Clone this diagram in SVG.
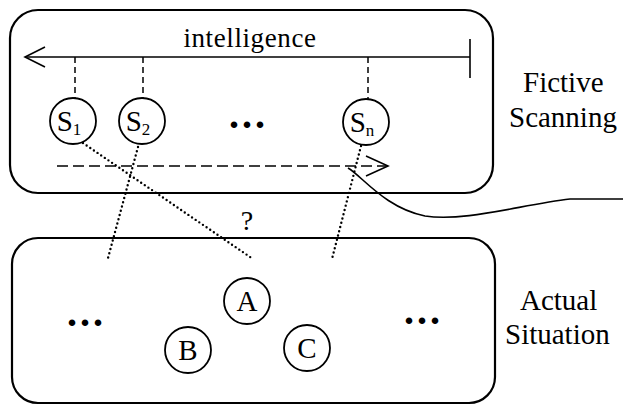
<svg xmlns="http://www.w3.org/2000/svg" width="623" height="405" viewBox="0 0 623 405">
  <style>
    .box { fill: none; stroke: #000; stroke-width: 2.2; }
    .solid { fill: none; stroke: #000; stroke-width: 1.6; }
    .dash { fill: none; stroke: #000; stroke-width: 1.5; stroke-dasharray: 6 4; }
    .hdash { fill: none; stroke: #000; stroke-width: 1.6; stroke-dasharray: 11 5; }
    .dot { fill: none; stroke: #000; stroke-width: 2.4; stroke-dasharray: 0 4.4; stroke-linecap: round; }
    .node { fill: #fff; stroke: #000; stroke-width: 1.8; }
    text { font-family: "Liberation Serif", "Times New Roman", serif; fill: #000; }
    .lbl { font-size: 29px; }
    .in { font-size: 29px; text-anchor: middle; }
    .ell { font-size: 40px; font-weight: bold; letter-spacing: 3px; }
  </style>

  <!-- regions -->
  <g id="fictive-scanning">
    <rect class="box" x="10" y="10" width="483" height="183" rx="28" ry="28"/>
    <text class="lbl" x="523" y="92">Fictive</text>
    <text class="lbl" x="509" y="127">Scanning</text>
  </g>
  <g id="actual-situation">
    <rect class="box" x="12" y="238" width="483" height="165" rx="26" ry="26"/>
    <text class="lbl" x="520" y="310">Actual</text>
    <text class="lbl" x="505" y="344">Situation</text>
  </g>

  <!-- connectors -->
  <g id="connectors">
    <!-- intelligence axis -->
    <line class="solid" x1="25" y1="57" x2="470" y2="57"/>
    <polyline class="solid" points="45,47 25,57 45,67"/>
    <line class="solid" x1="470" y1="39" x2="470" y2="78"/>
    <!-- drop lines to scan states -->
    <line class="dash" x1="75" y1="57" x2="75" y2="98"/>
    <line class="dash" x1="143" y1="57" x2="143" y2="98"/>
    <line class="dash" x1="368" y1="57" x2="368" y2="99"/>
    <!-- scanning direction -->
    <line class="hdash" x1="57" y1="166" x2="388" y2="166"/>
    <polyline class="solid" points="366,156 388,166 366,176"/>
    <!-- dotted correspondences -->
    <line class="dot" x1="83" y1="143" x2="253" y2="259"/>
    <line class="dot" x1="138" y1="147" x2="108" y2="258"/>
    <line class="dot" x1="361" y1="146" x2="332" y2="259"/>
    <!-- curve leaving the scan -->
    <path class="solid" d="M348,168 C362,176 385,208 425,216 C465,222 520,205 570,199 L623,199"/>
  </g>

  <g id="question">
    <text class="lbl" x="247" y="230" text-anchor="middle" style="font-size:28px">?</text>
  </g>

  <g id="intelligence">
    <text x="250" y="47" text-anchor="middle" style="font-size:27px;letter-spacing:0.6px">intelligence</text>
  </g>

  <!-- scan states -->
  <g id="s1">
    <circle class="node" cx="73" cy="121" r="23"/>
    <text class="in" x="69" y="131">S<tspan font-size="17" dy="4">1</tspan></text>
  </g>
  <g id="s2">
    <circle class="node" cx="142" cy="121" r="23"/>
    <text class="in" x="138" y="131">S<tspan font-size="17" dy="4">2</tspan></text>
  </g>
  <g id="s-ellipsis">
    <text class="ell" x="229" y="128">...</text>
  </g>
  <g id="sn">
    <circle class="node" cx="366" cy="122" r="23"/>
    <text class="in" x="362" y="132">S<tspan font-size="17" dy="4">n</tspan></text>
  </g>

  <!-- situation entities -->
  <g id="a">
    <circle class="node" cx="247" cy="301" r="23"/>
    <text class="in" x="247" y="311">A</text>
  </g>
  <g id="b">
    <circle class="node" cx="188" cy="350" r="23"/>
    <text class="in" x="188" y="360">B</text>
  </g>
  <g id="c">
    <circle class="node" cx="307" cy="348" r="23"/>
    <text class="in" x="307" y="358">C</text>
  </g>
  <g id="left-ellipsis">
    <text class="ell" x="67" y="326">...</text>
  </g>
  <g id="right-ellipsis">
    <text class="ell" x="404" y="324">...</text>
  </g>
</svg>
